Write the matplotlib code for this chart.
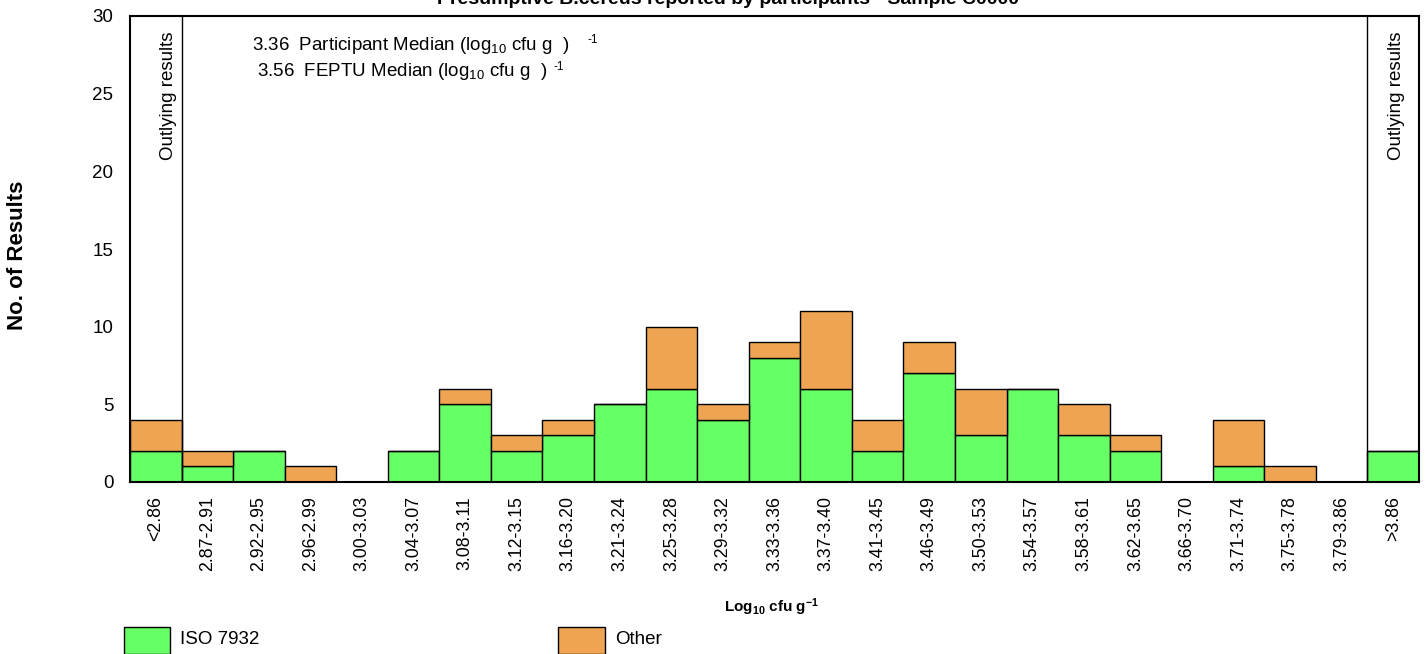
import matplotlib.pyplot as plt
from matplotlib.patches import Rectangle

plt.rcParams['font.family'] = ['Liberation Sans', 'DejaVu Sans']
plt.rcParams['mathtext.default'] = 'regular'

# histogram bins and counts
bins = ["<2.86", "2.87-2.91", "2.92-2.95", "2.96-2.99", "3.00-3.03", "3.04-3.07",
        "3.08-3.11", "3.12-3.15", "3.16-3.20", "3.21-3.24", "3.25-3.28", "3.29-3.32",
        "3.33-3.36", "3.37-3.40", "3.41-3.45", "3.46-3.49", "3.50-3.53", "3.54-3.57",
        "3.58-3.61", "3.62-3.65", "3.66-3.70", "3.71-3.74", "3.75-3.78", "3.79-3.86",
        ">3.86"]
iso_7932 = [2, 1, 2, 0, 0, 2, 5, 2, 3, 5, 6, 4, 8, 6, 2, 7, 3, 6, 3, 2, 0, 1, 0, 0, 2]
other = [2, 1, 0, 1, 0, 0, 1, 1, 1, 0, 4, 1, 1, 5, 2, 2, 3, 0, 2, 1, 0, 3, 1, 0, 0]

participant_median = 3.36
feptu_median = 3.56

GREEN = "#66ff66"
ORANGE = "#eea453"

W, H = 1426, 654
fig = plt.figure(figsize=(W / 100, H / 100), dpi=100)
ax = fig.add_axes([130 / W, 1 - 482 / H, 1289 / W, 466 / H])

x = list(range(len(bins)))
ax.bar(x, iso_7932, width=1.0, color=GREEN, edgecolor="black", linewidth=1.0)
ax.bar(x, other, width=1.0, bottom=iso_7932, color=ORANGE, edgecolor="black", linewidth=1.0)

# outlier boundaries
ax.axvline(0.5, color="black", linewidth=1.0)
ax.axvline(len(bins) - 1.5, color="black", linewidth=1.0)
ax.text(0.5 - 0.25, 29, "Outlying results", rotation=90, ha="center", va="top", fontsize=13.5)
ax.text(len(bins) - 1.5 + 0.57, 29, "Outlying results", rotation=90, ha="center", va="top", fontsize=13.5)

ax.set_xlim(-0.5, len(bins) - 0.5)
ax.set_ylim(0, 30)
ax.set_yticks(range(0, 31, 5))
ax.set_xticks(x)
ax.set_xticklabels(bins, rotation=90, fontsize=12.8)
ax.tick_params(axis="y", labelsize=13.5, length=0, pad=12)
ax.tick_params(axis="x", length=0, pad=10)
for s in ax.spines.values():
    s.set_linewidth(1.5)

# medians
ax.text(122 / 1289, 1 - 29 / 466, "%.2f  Participant Median (log$_{10}$ cfu g  )" % participant_median,
        transform=ax.transAxes, fontsize=13.5, va="center")
ax.text(457 / 1289, 1 - 24 / 466, "-1", transform=ax.transAxes, fontsize=8.5, va="center")
ax.text(127 / 1289, 1 - 56 / 466, "%.2f  FEPTU Median (log$_{10}$ cfu g  )" % feptu_median,
        transform=ax.transAxes, fontsize=13.5, va="center")
ax.text(424 / 1289, 1 - 51 / 466, "-1", transform=ax.transAxes, fontsize=8.5, va="center")

fig.text(18 / W, 1 - 255 / H, "No. of Results", rotation=90, ha="center", va="center",
         fontsize=16, fontweight="bold")
fig.text(772 / W, 1 - 607 / H, "Log$_{10}$ cfu g$^{-1}$", ha="center", va="center",
         fontsize=11, fontweight="bold")
fig.text(728 / W, 1 - 4 / H, "Presumptive B.cereus reported by participants - Sample C0000",
         ha="center", va="baseline", fontsize=14, fontweight="bold")

# legend
fig.patches.append(Rectangle((124 / W, 0), 46 / W, 27 / H, transform=fig.transFigure,
                             facecolor=GREEN, edgecolor="black", linewidth=1.0))
fig.text(180 / W, 1 - 640 / H, "ISO 7932", fontsize=13.5, va="center")
fig.patches.append(Rectangle((558 / W, 0), 47 / W, 27 / H, transform=fig.transFigure,
                             facecolor=ORANGE, edgecolor="black", linewidth=1.0))
fig.text(615 / W, 1 - 640 / H, "Other", fontsize=13.5, va="center")

fig.savefig("out.png", dpi=100)
